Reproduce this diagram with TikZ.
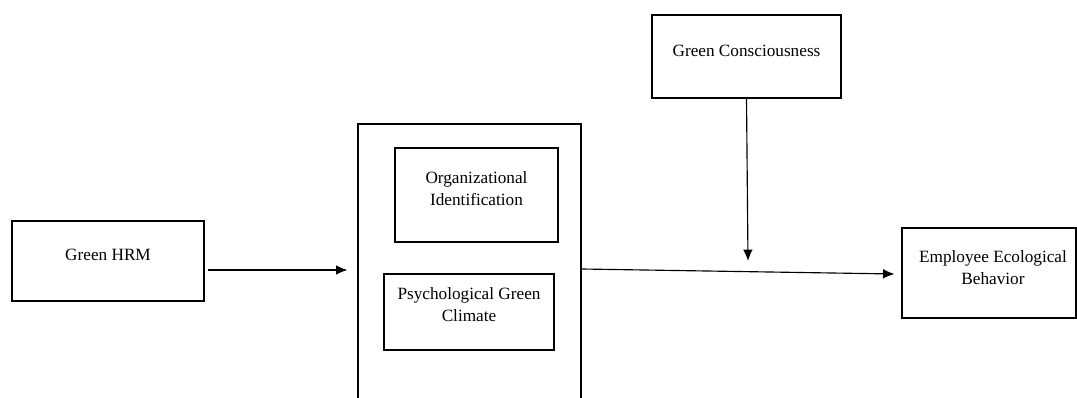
\documentclass[tikz,border=0pt]{standalone}
\usepackage{fontspec}
\setmainfont{Liberation Serif}
\usetikzlibrary{arrows.meta,calc}

\begin{document}
\begin{tikzpicture}[x=0.02cm,y=-0.02cm,
	box/.style={draw,line width=.65pt,inner sep=0pt},
	txt/.style={align=center,inner sep=0pt,font=\fontsize{9.8}{12.5}\selectfont},
	arr/.style={line width=.65pt,-{Latex[length=6.5pt,width=5.5pt]}}]
			\useasboundingbox (0,0) rectangle (1077,398);
			\node[box,minimum width=3.84cm,minimum height=1.6cm] (hrm) at (108,261) {};
			\node[box,minimum width=4.46cm,minimum height=5.92cm] (med) at (469.5,272) {};
			\node[box,minimum width=3.26cm,minimum height=1.88cm] (orgid) at (476.5,195) {};
			\node[box,minimum width=3.4cm,minimum height=1.52cm] (psych) at (469,312) {};
			\node[box,minimum width=3.78cm,minimum height=1.66cm] (gc) at (746.5,56.5) {};
			\node[box,minimum width=3.48cm,minimum height=1.8cm] (eeb) at (989,273) {};
			\node[txt] (hrm-t) at ($(hrm)+(0,-6)$) {Green HRM};
			\node[txt] (orgid-t) at ($(orgid)+(0,-6)$) {Organizational\\Identification};
			\node[txt] (psych-t) at ($(psych)+(0,-7)$) {Psychological Green\\Climate};
			\node[txt] (gc-t) at ($(gc)+(0,-6)$) {Green Consciousness};
			\node[txt] (eeb-t) at ($(eeb)+(4,-5)$) {Employee Ecological\\Behavior};
			\coordinate (mod) at (748,261);
			\draw[arr] ($(hrm.east)+(3,9)$) -- ($(med.west)+(-10,-2)$);
			\draw[arr] ($(med.east)+(0,-3)$) -- ($(eeb.west)+(-7,1)$);
			\draw[arr] (gc.south) -- (mod);
		\end{tikzpicture}
\end{document}
